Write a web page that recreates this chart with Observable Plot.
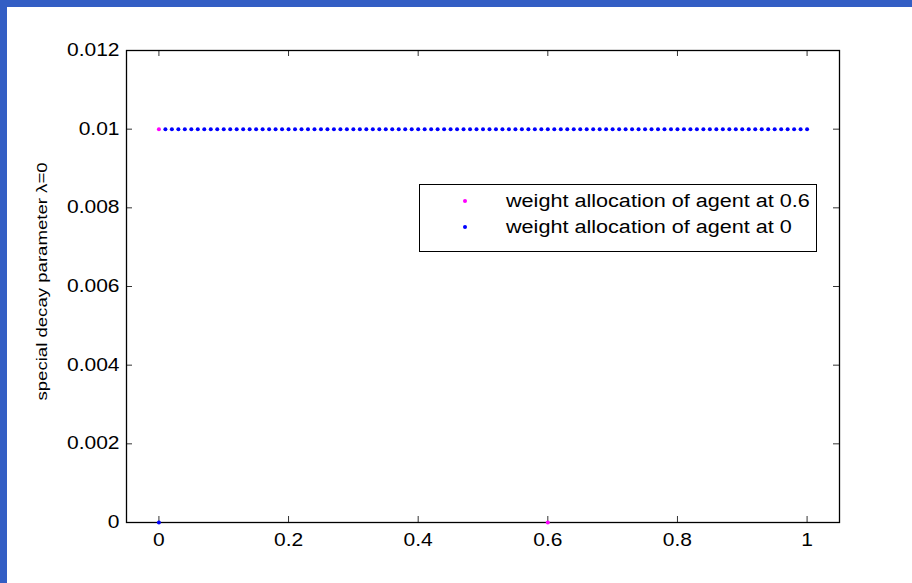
<!DOCTYPE html>
<html>
<head>
<meta charset="utf-8">
<script src="https://cdn.jsdelivr.net/npm/d3@7"></script>
<script src="https://cdn.jsdelivr.net/npm/@observablehq/plot@0.6"></script>
<style>
  body { margin: 0; background: #fff; font-family: "Liberation Sans", Arial, sans-serif; }
  #wrap { position: relative; width: 912px; height: 583px; background: #fff; overflow: hidden; }
  .bar { position: absolute; background: #335ec4; }
  #chart { position: absolute; left: 7px; top: 7px; }
  #legend { position: absolute; left: 419px; top: 184px; width: 396px; height: 66px; border: 1px solid #000; background: #fff; }
  .mk { position: absolute; width: 4px; height: 4px; border-radius: 50%; }
  .lt { position: absolute; left: 86px; font-size: 18px; line-height: 1; white-space: nowrap; color: #000;
        transform: scaleX(1.2); transform-origin: left center; }
</style>
</head>
<body>
<div id="wrap">
  <div class="bar" style="left:0;top:0;width:912px;height:7px"></div>
  <div class="bar" style="left:0;top:0;width:7px;height:583px"></div>
  <div id="chart"></div>
  <div id="legend"></div>
</div>
<script>
// ---- data ----
const seriesNames = ["weight allocation of agent at 0.6", "weight allocation of agent at 0"];
const seriesColors = ["#ff00ff", "#0000ff"];

const magentaX = [0, 0.6];
const magentaY = [0.01, 0];

const blueX = [0, 0.01, 0.02, 0.03, 0.04, 0.05, 0.06, 0.07, 0.08, 0.09,
  0.10, 0.11, 0.12, 0.13, 0.14, 0.15, 0.16, 0.17, 0.18, 0.19,
  0.20, 0.21, 0.22, 0.23, 0.24, 0.25, 0.26, 0.27, 0.28, 0.29,
  0.30, 0.31, 0.32, 0.33, 0.34, 0.35, 0.36, 0.37, 0.38, 0.39,
  0.40, 0.41, 0.42, 0.43, 0.44, 0.45, 0.46, 0.47, 0.48, 0.49,
  0.50, 0.51, 0.52, 0.53, 0.54, 0.55, 0.56, 0.57, 0.58, 0.59,
  0.60, 0.61, 0.62, 0.63, 0.64, 0.65, 0.66, 0.67, 0.68, 0.69,
  0.70, 0.71, 0.72, 0.73, 0.74, 0.75, 0.76, 0.77, 0.78, 0.79,
  0.80, 0.81, 0.82, 0.83, 0.84, 0.85, 0.86, 0.87, 0.88, 0.89,
  0.90, 0.91, 0.92, 0.93, 0.94, 0.95, 0.96, 0.97, 0.98, 0.99, 1.00];
const blueY = [0, 0.01, 0.01, 0.01, 0.01, 0.01, 0.01, 0.01, 0.01, 0.01,
  0.01, 0.01, 0.01, 0.01, 0.01, 0.01, 0.01, 0.01, 0.01, 0.01,
  0.01, 0.01, 0.01, 0.01, 0.01, 0.01, 0.01, 0.01, 0.01, 0.01,
  0.01, 0.01, 0.01, 0.01, 0.01, 0.01, 0.01, 0.01, 0.01, 0.01,
  0.01, 0.01, 0.01, 0.01, 0.01, 0.01, 0.01, 0.01, 0.01, 0.01,
  0.01, 0.01, 0.01, 0.01, 0.01, 0.01, 0.01, 0.01, 0.01, 0.01,
  0.01, 0.01, 0.01, 0.01, 0.01, 0.01, 0.01, 0.01, 0.01, 0.01,
  0.01, 0.01, 0.01, 0.01, 0.01, 0.01, 0.01, 0.01, 0.01, 0.01,
  0.01, 0.01, 0.01, 0.01, 0.01, 0.01, 0.01, 0.01, 0.01, 0.01,
  0.01, 0.01, 0.01, 0.01, 0.01, 0.01, 0.01, 0.01, 0.01, 0.01, 0.01];

const xTicks = [0, 0.2, 0.4, 0.6, 0.8, 1];
const xTickLabels = ["0", "0.2", "0.4", "0.6", "0.8", "1"];
const yTicks = [0, 0.002, 0.004, 0.006, 0.008, 0.01, 0.012];
const yTickLabels = ["0", "0.002", "0.004", "0.006", "0.008", "0.01", "0.012"];
const xDomain = [-0.05, 1.05];
const yDomain = [0, 0.012];
const yLabel = "special decay parameter \u03bb=0";

// ---- layout ----
const W = 905, H = 576;
const mL = 119, mR = 73, mT = 43, mB = 61;
const fw = W - mL - mR, fh = H - mT - mB;
const tk = 6;

const magenta = magentaX.map((x, i) => ({x, y: magentaY[i]}));
const blue = blueX.map((x, i) => ({x, y: blueY[i]}));
const xt = xTicks.map((v, i) => ({v, label: xTickLabels[i]}));
const yt = yTicks.map((v, i) => ({v, label: yTickLabels[i]}));

const chart = Plot.plot({
  width: W, height: H,
  marginLeft: mL, marginRight: mR, marginTop: mT, marginBottom: mB,
  style: {fontFamily: "'Liberation Sans', Arial, sans-serif", background: "transparent", color: "#000", overflow: "visible"},
  x: {domain: xDomain, axis: null},
  y: {domain: yDomain, axis: null},
  marks: [
    Plot.tickX(xt, {x: "v", stroke: "#333", strokeWidth: 1, insetTop: fh - tk}),
    Plot.tickX(xt, {x: "v", stroke: "#333", strokeWidth: 1, insetBottom: fh - tk}),
    Plot.tickY(yt, {y: "v", stroke: "#333", strokeWidth: 1, insetRight: fw - tk}),
    Plot.tickY(yt, {y: "v", stroke: "#333", strokeWidth: 1, insetLeft: fw - tk}),
    Plot.frame({stroke: "#000", strokeWidth: 1.3}),
    Plot.text(xt, {x: "v", text: "label", frameAnchor: "bottom", dy: 18, fontSize: 17.5, fill: "#000", textAnchor: "middle", lineAnchor: "middle"}),
    Plot.text(yt, {y: "v", text: "label", frameAnchor: "left", dx: -7, fontSize: 17.5, fill: "#000", textAnchor: "end", lineAnchor: "middle"}),
    Plot.text([yLabel], {text: d => d, frameAnchor: "left", dx: -84, dy: -5, rotate: -90, fontSize: 15.5, fill: "#000", textAnchor: "middle", lineAnchor: "middle"}),
    Plot.dot(magenta, {x: "x", y: "y", r: 2, fill: seriesColors[0], stroke: null}),
    Plot.dot(blue, {x: "x", y: "y", r: 2, fill: seriesColors[1], stroke: null})
  ]
});

// widen text along the reading direction (the reference's glyphs are wide)
chart.querySelectorAll("text").forEach(t => {
  const tr = t.getAttribute("transform");
  if (tr) t.setAttribute("transform", tr + " scale(1.2,1)");
});

document.getElementById("chart").appendChild(chart);

// legend
const legend = document.getElementById("legend");
const rowMk = [15.7, 41.7];
const rowTxt = [7.3, 33.3];
seriesNames.forEach((name, i) => {
  const m = document.createElement("div");
  m.className = "mk";
  m.style.left = (45 - 2) + "px";
  m.style.top = (rowMk[i] - 2) + "px";
  m.style.background = seriesColors[i];
  legend.appendChild(m);
  const t = document.createElement("div");
  t.className = "lt";
  t.style.top = rowTxt[i] + "px";
  t.textContent = name;
  legend.appendChild(t);
});
</script>
</body>
</html>
